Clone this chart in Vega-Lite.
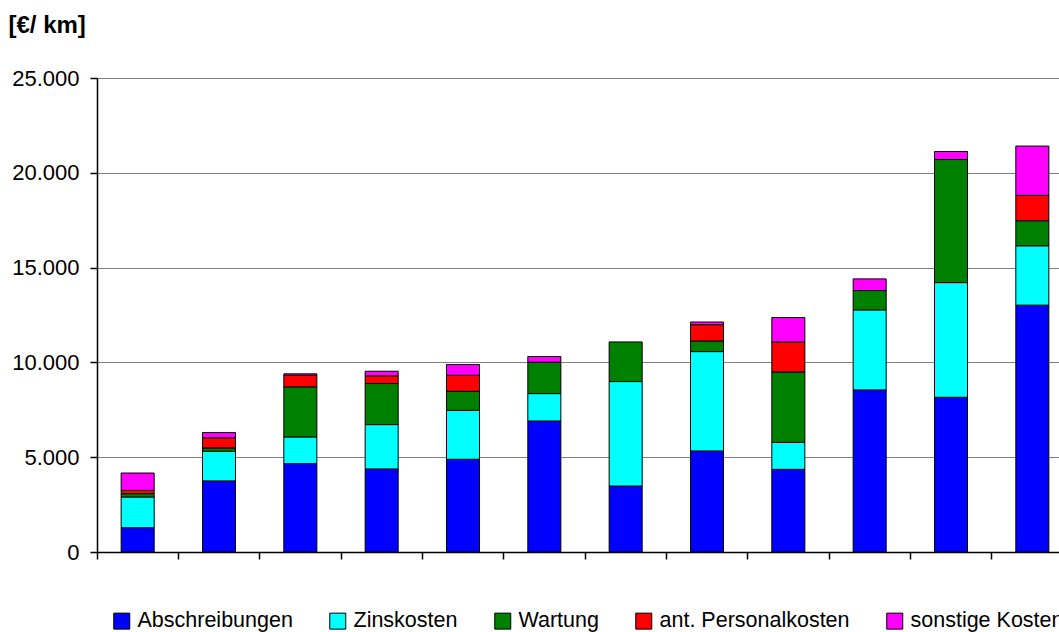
{
  "$schema": "https://vega.github.io/schema/vega-lite/v6.json",
  "autosize": {"type": "none"},
  "width": 962,
  "height": 474,
  "padding": {"left": 97, "top": 78, "right": 0, "bottom": 80},
  "background": "white",
  "config": {
    "font": "Liberation Sans",
    "view": {"stroke": null},
    "axis": {"labelColor": "black", "titleColor": "black", "domainColor": "black", "tickColor": "black"}
  },
  "data": {
    "values": [
      {"g": "1", "k": "Abschreibungen", "v": 1280},
      {"g": "1", "k": "Zinskosten", "v": 1620},
      {"g": "1", "k": "Wartung", "v": 175},
      {"g": "1", "k": "ant. Personalkosten", "v": 175},
      {"g": "1", "k": "sonstige Kosten", "v": 915},
      {"g": "2", "k": "Abschreibungen", "v": 3750},
      {"g": "2", "k": "Zinskosten", "v": 1565},
      {"g": "2", "k": "Wartung", "v": 175},
      {"g": "2", "k": "ant. Personalkosten", "v": 530},
      {"g": "2", "k": "sonstige Kosten", "v": 280},
      {"g": "3", "k": "Abschreibungen", "v": 4660},
      {"g": "3", "k": "Zinskosten", "v": 1410},
      {"g": "3", "k": "Wartung", "v": 2640},
      {"g": "3", "k": "ant. Personalkosten", "v": 615},
      {"g": "3", "k": "sonstige Kosten", "v": 70},
      {"g": "4", "k": "Abschreibungen", "v": 4380},
      {"g": "4", "k": "Zinskosten", "v": 2340},
      {"g": "4", "k": "Wartung", "v": 2165},
      {"g": "4", "k": "ant. Personalkosten", "v": 405},
      {"g": "4", "k": "sonstige Kosten", "v": 245},
      {"g": "5", "k": "Abschreibungen", "v": 4890},
      {"g": "5", "k": "Zinskosten", "v": 2585},
      {"g": "5", "k": "Wartung", "v": 1000},
      {"g": "5", "k": "ant. Personalkosten", "v": 845},
      {"g": "5", "k": "sonstige Kosten", "v": 565},
      {"g": "6", "k": "Abschreibungen", "v": 6910},
      {"g": "6", "k": "Zinskosten", "v": 1445},
      {"g": "6", "k": "Wartung", "v": 1655},
      {"g": "6", "k": "sonstige Kosten", "v": 300},
      {"g": "7", "k": "Abschreibungen", "v": 3480},
      {"g": "7", "k": "Zinskosten", "v": 5510},
      {"g": "7", "k": "Wartung", "v": 2090},
      {"g": "8", "k": "Abschreibungen", "v": 5330},
      {"g": "8", "k": "Zinskosten", "v": 5240},
      {"g": "8", "k": "Wartung", "v": 560},
      {"g": "8", "k": "ant. Personalkosten", "v": 860},
      {"g": "8", "k": "sonstige Kosten", "v": 140},
      {"g": "9", "k": "Abschreibungen", "v": 4360},
      {"g": "9", "k": "Zinskosten", "v": 1425},
      {"g": "9", "k": "Wartung", "v": 3710},
      {"g": "9", "k": "ant. Personalkosten", "v": 1585},
      {"g": "9", "k": "sonstige Kosten", "v": 1285},
      {"g": "10", "k": "Abschreibungen", "v": 8550},
      {"g": "10", "k": "Zinskosten", "v": 4220},
      {"g": "10", "k": "Wartung", "v": 1020},
      {"g": "10", "k": "sonstige Kosten", "v": 615},
      {"g": "11", "k": "Abschreibungen", "v": 8160},
      {"g": "11", "k": "Zinskosten", "v": 6050},
      {"g": "11", "k": "Wartung", "v": 6490},
      {"g": "11", "k": "sonstige Kosten", "v": 425},
      {"g": "12", "k": "Abschreibungen", "v": 13020},
      {"g": "12", "k": "Zinskosten", "v": 3130},
      {"g": "12", "k": "Wartung", "v": 1320},
      {"g": "12", "k": "ant. Personalkosten", "v": 1340},
      {"g": "12", "k": "sonstige Kosten", "v": 2600}
    ]
  },
  "mark": {"type": "bar", "stroke": "black", "strokeWidth": 1},
  "encoding": {
    "x": {
      "field": "g",
      "type": "nominal",
      "sort": ["1","2","3","4","5","6","7","8","9","10","11","12"],
      "scale": {"range": [0, 976], "paddingInner": 0.594, "paddingOuter": 0.297},
      "axis": {
        "labels": false,
        "title": null,
        "bandPosition": -0.7315,
        "tickSize": 7,
        "tickWidth": 1.5,
        "domainWidth": 1.5,
        "grid": false
      }
    },
    "y": {
      "field": "v",
      "type": "quantitative",
      "aggregate": "sum",
      "stack": "zero",
      "scale": {"domain": [0, 25000], "nice": false},
      "axis": {
        "values": [0, 5000, 10000, 15000, 20000, 25000],
        "labelExpr": "replace(format(datum.value, ','), ',', '.')",
        "labelFontSize": 22,
        "labelPadding": 11,
        "tickSize": 7,
        "tickWidth": 1.5,
        "domainWidth": 1.5,
        "grid": true,
        "gridColor": "#808080",
        "gridWidth": 1,
        "title": "[€/ km]",
        "titleAngle": 0,
        "titleX": -89,
        "titleY": -46,
        "titleAlign": "left",
        "titleBaseline": "alphabetic",
        "titleFontSize": 24,
        "titleFontWeight": "bold"
      }
    },
    "color": {
      "field": "k",
      "type": "nominal",
      "sort": ["Abschreibungen", "Zinskosten", "Wartung", "ant. Personalkosten", "sonstige Kosten"],
      "scale": {
        "domain": ["Abschreibungen", "Zinskosten", "Wartung", "ant. Personalkosten", "sonstige Kosten"],
        "range": ["#0000FF", "#00FFFF", "#008000", "#FF0000", "#FF00FF"]
      },
      "legend": {
        "orient": "none",
        "legendX": 14,
        "legendY": 532,
        "direction": "horizontal",
        "columns": 5,
        "title": null,
        "symbolType": "square",
        "symbolSize": 256,
        "symbolStrokeColor": "black",
        "symbolStrokeWidth": 1,
        "symbolOpacity": 1,
        "labelFontSize": 21.5,
        "labelColor": "black",
        "labelOffset": 5,
        "columnPadding": 34,
        "labelLimit": 400
      }
    },
    "order": {"field": "ord", "type": "quantitative"}
  },
  "transform": [
    {"calculate": "indexof(['Abschreibungen','Zinskosten','Wartung','ant. Personalkosten','sonstige Kosten'], datum.k)", "as": "ord"}
  ]
}
